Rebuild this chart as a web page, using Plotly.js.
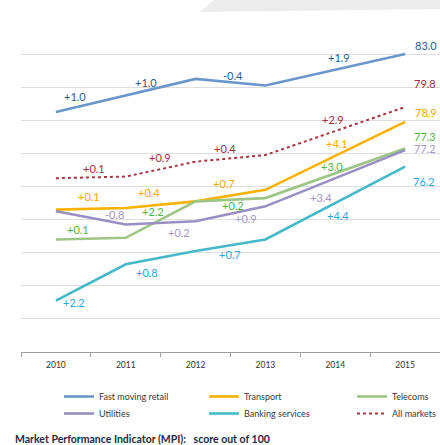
<!DOCTYPE html>
<html><head><meta charset="utf-8">
<script src="https://cdn.plot.ly/plotly-3.0.1.min.js"></script>
<style>html,body{margin:0;padding:0;background:#fff}#chart{width:440px;height:445px}</style>
</head><body><div id="chart"></div>
<script>
// ---- data ----
const years = ['2010', '2011', '2012', '2013', '2014', '2015'];
const dataYears = ['2010', '2011', '2012', '2013', '2015'];
const fastMovingRetail = [79.5, 80.5, 81.5, 81.1, 83.0];
const transport = [73.6, 73.7, 74.1, 74.8, 78.9];
const telecoms = [71.8, 71.9, 74.1, 74.3, 77.3];
const utilities = [73.5, 72.7, 72.9, 73.8, 77.2];
const bankingServices = [68.1, 70.3, 71.1, 71.8, 76.2];
const allMarkets = [75.5, 75.6, 76.5, 76.9, 79.8];
const seriesNames = ['Fast moving retail', 'Transport', 'Telecoms', 'Utilities', 'Banking services', 'All markets'];
const seriesValues = [fastMovingRetail, transport, telecoms, utilities, bankingServices, allMarkets];

// ---- styles (pixel offsets of labels, colours, legend slots) ----
const W = 440, H = 445;
const styles = [
  {line: '#6a96cc', text: '#2d5d8f', dash: 'solid', lx: 59, row: 0, seg: [[-16,-7],[-15,-5],[2,-7],[4,-12]], end: [21,-9]},
  {line: '#f9b200', text: '#f3a900', dash: 'solid', lx: 204, row: 0, seg: [[-2,-12],[-12,-12],[-7,-12],[2,-12]], end: [21,-9]},
  {line: '#9dc583', text: '#4fb545', dash: 'solid', lx: 352, row: 0, seg: [[-13,-9],[-8,-8],[2,6],[-3,-7]], end: [20,-12]},
  {line: '#9a8fc2', text: '#a398c6', dash: 'solid', lx: 59, row: 1, seg: [[24,-3],[18,10],[15,5],[-14,19]], end: [20,-2]},
  {line: '#45b9c9', text: '#2ba6df', dash: 'solid', lx: 204, row: 1, seg: [[-17,20],[-14,15],[-1,9],[3,12]], end: [19,15]},
  {line: '#a8343f', text: '#a22e3a', dash: 'dot', lx: 352, row: 1, seg: [[3,-9],[-1,-12],[-6,-10],[-2,-12]], end: [20,-24]}
];
const rowTop = [382, 399];
const labelFont = {family: 'Lato, "Open Sans", sans-serif', size: 11};

const traces = [];
const annotations = [];
const layout = {
  width: W, height: H,
  margin: {l: 21, r: 0, t: 21, b: 93, autoexpand: false},
  paper_bgcolor: '#fff', plot_bgcolor: '#fff',
  showlegend: true,
  xaxis: {
    type: 'category', categoryorder: 'array', categoryarray: years,
    range: [-0.5, 5.5], tickson: 'boundaries', ticks: 'outside', ticklen: 4,
    tickcolor: '#a0a0a0', showline: true, linecolor: '#a0a0a0', linewidth: 1,
    showgrid: false, zeroline: false, fixedrange: true, automargin: false, tickangle: 0,
    ticklabelstandoff: 5,
    tickfont: {family: 'Lato, sans-serif', size: 8.5, color: '#333'}
  },
  yaxis: {
    range: [65, 85], tick0: 65, dtick: 2, showticklabels: false, ticks: '',
    gridcolor: '#dedede', gridwidth: 1, zeroline: false, showline: false, fixedrange: true, automargin: false
  },
  annotations: annotations,
  shapes: []
};

seriesNames.forEach((name, s) => {
  const st = styles[s];
  const vals = seriesValues[s];
  const legId = s === 0 ? 'legend' : 'legend' + (s + 1);
  traces.push({
    type: 'scatter', mode: 'lines', name: name, x: dataYears, y: vals,
    line: {color: st.line, width: st.dash === 'dot' ? 2 : 2.6, dash: st.dash},
    legend: legId, hoverinfo: 'skip'
  });
  layout[legId] = {
    xref: 'container', yref: 'container',
    x: st.lx / W, y: 1 - rowTop[st.row] / H, xanchor: 'left', yanchor: 'top',
    orientation: 'v', bgcolor: 'rgba(0,0,0,0)', borderwidth: 0,
    font: {family: 'Lato, sans-serif', size: 9, color: '#3a3a3a'}
  };
  // change labels at segment midpoints
  for (let k = 0; k < vals.length - 1; k++) {
    const i0 = years.indexOf(dataYears[k]);
    const i1 = years.indexOf(dataYears[k + 1]);
    const d = Math.round((vals[k + 1] - vals[k]) * 10) / 10;
    const txt = (d >= 0 ? '+' : '-') + Math.abs(d).toFixed(1);
    annotations.push({
      x: (i0 + i1) / 2, y: (vals[k] + vals[k + 1]) / 2, xref: 'x', yref: 'y',
      text: txt, showarrow: false, xanchor: 'center', yanchor: 'middle',
      xshift: st.seg[k][0], yshift: -st.seg[k][1],
      font: Object.assign({color: st.text}, labelFont)
    });
  }
  // end value label
  const last = vals.length - 1;
  annotations.push({
    x: years.indexOf(dataYears[last]), y: vals[last], xref: 'x', yref: 'y',
    text: vals[last].toFixed(1), showarrow: false, xanchor: 'center', yanchor: 'middle',
    xshift: st.end[0], yshift: -st.end[1],
    font: Object.assign({color: st.text}, labelFont)
  });
});

// footer title
annotations.push({
  xref: 'paper', yref: 'paper', x: (13 - 21) / 419, y: (352 - 439) / 331,
  xanchor: 'left', yanchor: 'middle', showarrow: false,
  text: '<b>Market Performance Indicator (MPI):&nbsp;&nbsp; score out of 100</b>',
  font: {family: 'Lato, sans-serif', size: 10.5, color: '#1f2a44'}
});

// light grey header strip at the top
const px = v => (v - 21) / 419, py = v => (352 - v) / 331;
layout.shapes.push({
  type: 'path', xref: 'paper', yref: 'paper', layer: 'below',
  path: `M ${px(200)},${py(12)} L ${px(214)},${py(0)} L ${px(440)},${py(0)} L ${px(440)},${py(9)} Z`,
  fillcolor: '#ececec', line: {width: 0}
});

Plotly.newPlot('chart', traces, layout, {displayModeBar: false, staticPlot: true});
</script>
</body></html>
